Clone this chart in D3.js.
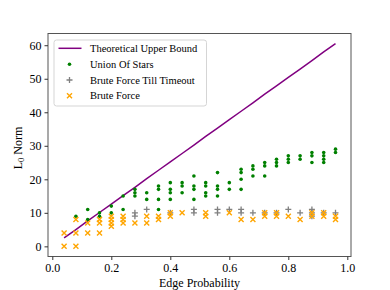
<!DOCTYPE html>
<html>
<head>
<meta charset="utf-8">
<script src="https://cdn.jsdelivr.net/npm/d3@7.9.0/dist/d3.min.js"></script>
<style>
  body { margin: 0; background: #fff; }
  svg text { font-family: "Liberation Serif", "DejaVu Serif", serif; }
</style>
</head>
<body>
<svg id="chart" width="390" height="290"></svg>
<script>
// edge probabilities sampled
const edgeProbs = [0.04, 0.08, 0.12, 0.16, 0.20, 0.24, 0.28, 0.32, 0.36, 0.40, 0.44, 0.48,
                   0.52, 0.56, 0.60, 0.64, 0.68, 0.72, 0.76, 0.80, 0.84, 0.88, 0.92, 0.96];

const upperBound = [2.5, 5.0, 7.6, 10.1, 12.6, 15.1, 17.6, 20.2, 22.7, 25.2, 27.7, 30.2,
                    32.8, 35.3, 37.8, 40.3, 42.8, 45.4, 47.9, 50.4, 52.9, 55.4, 58.0, 60.5];

// one list of observed L0 norms per edge probability
const unionOfStars = [
  [], [9], [11, 8], [10, 9], [12, 10], [15, 11], [17, 16, 15], [16, 14],
  [18, 17, 14, 11], [19, 17, 16, 14], [19, 18, 16], [21, 18, 17, 14],
  [19, 18, 16, 15], [22, 18, 17, 15], [19, 17], [23, 22, 20, 17],
  [24, 23, 21], [25, 24, 21], [26, 25, 24], [27, 26, 25],
  [27, 26], [28, 27, 25], [28, 27, 26, 25], [29, 28]
];

const bruteTimeout = [
  [], [], [], [], [], [], [10, 9], [11],
  [], [10], [], [11, 10],
  [], [11, 10], [11], [11, 10],
  [10], [10], [10], [11],
  [10], [11, 10, 9], [10], [10]
];

const bruteForce = [
  [4, 0], [8, 4, 0], [7, 4], [8, 7, 4], [9, 8, 7, 6], [9, 8, 7], [7], [9, 7],
  [9, 8], [10, 9], [10], [],
  [10, 9], [], [10], [8],
  [8], [10, 9], [10, 9], [9],
  [8], [10, 9], [10, 9], [9, 8]
];

const xTicks = [0.0, 0.2, 0.4, 0.6, 0.8, 1.0];
const yTicks = [0, 10, 20, 30, 40, 50, 60];

const legendLabels = ['Theoretical Upper Bound', 'Union Of Stars', 'Brute Force Till Timeout', 'Brute Force'];

const svg = d3.select('#chart');
const plotL = 48, plotR = 351, plotT = 33.5, plotB = 256.5;
const serif = '"Liberation Serif", "DejaVu Serif", serif';

const x = d3.scaleLinear().domain([-0.0146, 1.0125]).range([plotL, plotR]);
const y = d3.scaleLinear().domain([-3.03, 63.5]).range([plotB, plotT]);

const flat = (arr) => arr.flatMap((vals, i) => vals.map(v => ({ p: edgeProbs[i], v })));

// upper bound line
const line = d3.line().x((d, i) => x(edgeProbs[i])).y(d => y(d));
svg.append('path')
  .attr('d', line(upperBound))
  .attr('fill', 'none')
  .attr('stroke', 'purple')
  .attr('stroke-width', 1.5);

// union of stars: green dots
svg.append('g').selectAll('circle')
  .data(flat(unionOfStars))
  .join('circle')
  .attr('cx', d => x(d.p))
  .attr('cy', d => y(d.v))
  .attr('r', 1.8)
  .attr('fill', 'green');

const plusPath = (s) => `M${-s},0H${s}M0,${-s}V${s}`;
const crossPath = (s) => `M${-s},${-s}L${s},${s}M${-s},${s}L${s},${-s}`;

svg.append('g').selectAll('path')
  .data(flat(bruteTimeout))
  .join('path')
  .attr('transform', d => `translate(${x(d.p)},${y(d.v)})`)
  .attr('d', plusPath(3))
  .attr('stroke', 'grey')
  .attr('stroke-width', 1.3);

svg.append('g').selectAll('path')
  .data(flat(bruteForce))
  .join('path')
  .attr('transform', d => `translate(${x(d.p)},${y(d.v)})`)
  .attr('d', crossPath(2.5))
  .attr('stroke', 'orange')
  .attr('stroke-width', 1.4);

// frame
svg.append('rect')
  .attr('x', plotL).attr('y', plotT)
  .attr('width', plotR - plotL).attr('height', plotB - plotT)
  .attr('fill', 'none')
  .attr('stroke', '#555')
  .attr('stroke-width', 1);

// axes
const xAxis = svg.append('g')
  .attr('transform', `translate(0,${plotB})`)
  .call(d3.axisBottom(x).tickValues(xTicks).tickFormat(d3.format('.1f')).tickSize(3.5).tickPadding(3));
const yAxis = svg.append('g')
  .attr('transform', `translate(${plotL},0)`)
  .call(d3.axisLeft(y).tickValues(yTicks).tickSize(3.5).tickPadding(3));

[xAxis, yAxis].forEach(g => {
  g.select('.domain').remove();
  g.attr('font-family', serif);
  g.selectAll('.tick line').attr('stroke', '#333');
  g.selectAll('.tick text')
    .attr('fill', '#000')
    .style('font-size', '12px');
});

svg.append('text')
  .attr('x', (plotL + plotR) / 2)
  .attr('y', 287)
  .attr('text-anchor', 'middle')
  .style('font-size', '12px')
  .text('Edge Probability');

const yl = svg.append('text')
  .attr('transform', `translate(22,${(plotT + plotB) / 2 + 3}) rotate(-90)`)
  .attr('text-anchor', 'middle')
  .style('font-size', '12px');
yl.append('tspan').text('L');
yl.append('tspan').attr('baseline-shift', '-25%').style('font-size', '8.5px').text('0');
yl.append('tspan').text(' Norm');

// legend
const lg = svg.append('g');
lg.append('rect')
  .attr('x', 54).attr('y', 40)
  .attr('width', 152.5).attr('height', 66)
  .attr('rx', 2.5)
  .attr('fill', 'white').attr('fill-opacity', 0.8)
  .attr('stroke', '#d5d5d5');

const rowY = [48.3, 64.2, 80, 95.8];
const mx = 69.5;
lg.append('line')
  .attr('x1', 58.5).attr('x2', 81.5)
  .attr('y1', rowY[0]).attr('y2', rowY[0])
  .attr('stroke', 'purple').attr('stroke-width', 1.5);
lg.append('circle').attr('cx', mx).attr('cy', rowY[1]).attr('r', 1.8).attr('fill', 'green');
lg.append('path').attr('transform', `translate(${mx},${rowY[2]})`).attr('d', plusPath(3))
  .attr('stroke', 'grey').attr('stroke-width', 1.3);
lg.append('path').attr('transform', `translate(${mx},${rowY[3]})`).attr('d', crossPath(2.5))
  .attr('stroke', 'orange').attr('stroke-width', 1.4);

lg.selectAll('text.lab')
  .data(legendLabels)
  .join('text')
  .attr('class', 'lab')
  .attr('x', 90)
  .attr('y', (d, i) => rowY[i])
  .attr('dy', '0.35em')
  .attr('font-family', serif)
  .style('font-size', '10.5px')
  .text(d => d);
</script>
</body>
</html>
